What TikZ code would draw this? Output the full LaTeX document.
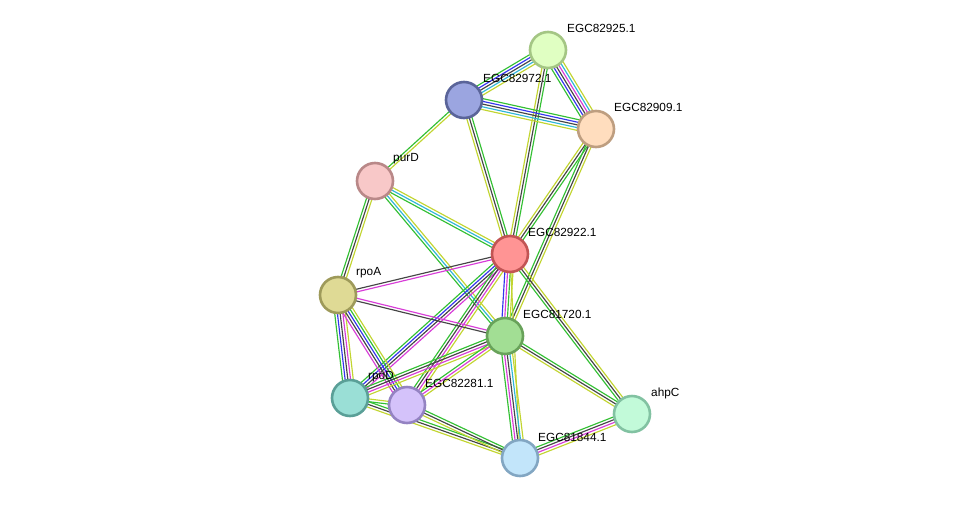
\documentclass[tikz,border=0pt]{standalone}
\usepackage{fontspec}
\setmainfont{Liberation Sans}
\usetikzlibrary{calc,backgrounds}
\definecolor{TextMine}{HTML}{C2D530}
\definecolor{CoExpr}{HTML}{454545}
\definecolor{Neighb}{HTML}{33C033}
\definecolor{DbCyan}{HTML}{2FB6D8}
\definecolor{ExpMag}{HTML}{D83CD8}
\definecolor{CoocBlue}{HTML}{3434EE}
% node fills and rims
\definecolor{FillA}{HTML}{E0FFC2}\definecolor{RimA}{HTML}{A4C684}
\definecolor{FillB}{HTML}{9BA5E0}\definecolor{RimB}{HTML}{5A6499}
\definecolor{FillC}{HTML}{FFDDBE}\definecolor{RimC}{HTML}{BE9E80}
\definecolor{FillD}{HTML}{F8C8C8}\definecolor{RimD}{HTML}{B98888}
\definecolor{FillE}{HTML}{FF9494}\definecolor{RimE}{HTML}{C25454}
\definecolor{FillF}{HTML}{DFDA95}\definecolor{RimF}{HTML}{9E9A5A}
\definecolor{FillG}{HTML}{A2DE94}\definecolor{RimG}{HTML}{68A25A}
\definecolor{FillH}{HTML}{9ADFD6}\definecolor{RimH}{HTML}{5A9F97}
\definecolor{FillI}{HTML}{D4C2FA}\definecolor{RimI}{HTML}{9483C2}
\definecolor{FillJ}{HTML}{C2FAD9}\definecolor{RimJ}{HTML}{82C2A2}
\definecolor{FillK}{HTML}{C2E5FA}\definecolor{RimK}{HTML}{82A6C2}

\tikzset{
  prot/.style={circle,minimum size=36pt,inner sep=0pt,line width=2.6pt,fill=Fill#1,draw=Rim#1},
  plabel/.style={anchor=west,inner sep=0pt,font=\fontsize{11.8}{13}\selectfont},
  evid/.style={line width=1.15pt}
}

% one line per evidence channel, side by side
\newcommand{\bundle}[3]{%
  \foreach \c [count=\k] in {#3} {\xdef\nlines{\k}}
  \foreach \c [count=\i] in {#3} {
    \pgfmathsetmacro\off{(\i-(\nlines+1)/2)*2.7}
    \draw[evid,\c] ($(#1)!\off pt!90:(#2)$) -- ($(#2)!\off pt!-90:(#1)$);
  }
}

\begin{document}
\begin{tikzpicture}[x=1pt,y=-1pt]
  \useasboundingbox (0,0) rectangle (975,504);

  % proteins
  \node[prot=A] (p2925) at (548,50) {};
  \node[prot=B] (p2972) at (464,100) {};
  \node[prot=C] (p2909) at (596,129) {};
  \node[prot=D] (purD) at (375,181) {};
  \node[prot=E] (p2922) at (510,254) {};
  \node[prot=F] (rpoA) at (338,295) {};
  \node[prot=G] (p1720) at (505,336) {};
  \node[prot=H] (rpoD) at (350,398) {};
  \node[prot=I] (p2281) at (407,405) {};
  \node[prot=J] (ahpC) at (632,414) {};
  \node[prot=K] (p1844) at (520,458) {};

  \begin{scope}[on background layer]
    \fill[white] (0,0) rectangle (975,504);
    \bundle{p2972}{p2925}{TextMine,DbCyan,CoExpr,CoocBlue,Neighb}
    \bundle{p2925}{p2909}{Neighb,CoocBlue,CoExpr,ExpMag,DbCyan,TextMine}
    \bundle{p2925}{p2922}{TextMine,CoExpr,Neighb}
    \bundle{p2972}{p2909}{TextMine,DbCyan,CoExpr,CoocBlue,Neighb}
    \bundle{p2972}{p2922}{TextMine,CoExpr,Neighb}
    \bundle{p2972}{purD}{Neighb,TextMine}
    \bundle{p2909}{p2922}{TextMine,CoExpr,Neighb}
    \bundle{p2909}{p1720}{Neighb,CoExpr,TextMine}
    \bundle{purD}{p2922}{Neighb,DbCyan,TextMine}
    \bundle{purD}{rpoA}{Neighb,CoExpr,TextMine}
    \bundle{purD}{p1720}{Neighb,DbCyan,TextMine}
    \bundle{p2922}{rpoA}{CoExpr,ExpMag}
    \bundle{p2922}{p1720}{CoocBlue,ExpMag,Neighb,TextMine}
    \bundle{p2922}{rpoD}{Neighb,CoocBlue,CoExpr,ExpMag}
    \bundle{p2922}{p2281}{Neighb,CoExpr,ExpMag,TextMine}
    \bundle{p2922}{ahpC}{Neighb,CoExpr,TextMine}
    \bundle{p2922}{p1844}{TextMine}
    \bundle{rpoA}{p1720}{CoExpr,ExpMag}
    \bundle{rpoA}{rpoD}{Neighb,CoocBlue,CoExpr,ExpMag,TextMine}
    \bundle{rpoA}{p2281}{ExpMag,CoExpr,CoocBlue,Neighb,TextMine}
    \bundle{p1720}{rpoD}{Neighb,CoExpr,ExpMag,TextMine}
    \bundle{p1720}{p2281}{Neighb,ExpMag,TextMine}
    \bundle{p1720}{p1844}{Neighb,ExpMag,CoExpr,DbCyan,TextMine}
    \bundle{p1720}{ahpC}{TextMine,CoExpr,Neighb}
    \bundle{rpoD}{p2281}{Neighb,TextMine}
    \bundle{rpoD}{p1844}{TextMine,CoExpr,Neighb}
    \bundle{p2281}{p1844}{TextMine,CoExpr,Neighb}
    \bundle{ahpC}{p1844}{Neighb,CoExpr,ExpMag,TextMine}
  \end{scope}

  % names
  \node[plabel] (l2925) at ($(p2925)+(19,-22)$) {EGC82925.1};
  \node[plabel] (l2972) at ($(p2972)+(19,-22)$) {EGC82972.1};
  \node[plabel] (l2909) at ($(p2909)+(18,-22)$) {EGC82909.1};
  \node[plabel] (lpurD) at ($(purD)+(18,-22)$) {purD};
  \node[plabel] (l2922) at ($(p2922)+(18,-22)$) {EGC82922.1};
  \node[plabel] (lrpoA) at ($(rpoA)+(18,-22)$) {rpoA};
  \node[plabel] (l1720) at ($(p1720)+(18,-22)$) {EGC81720.1};
  \node[plabel] (lrpoD) at ($(rpoD)+(18,-21)$) {rpoD};
  \node[plabel] (l2281) at ($(p2281)+(18,-22)$) {EGC82281.1};
  \node[plabel] (lahpC) at ($(ahpC)+(19,-21)$) {ahpC};
  \node[plabel] (l1844) at ($(p1844)+(18,-21)$) {EGC81844.1};
\end{tikzpicture}
\end{document}
